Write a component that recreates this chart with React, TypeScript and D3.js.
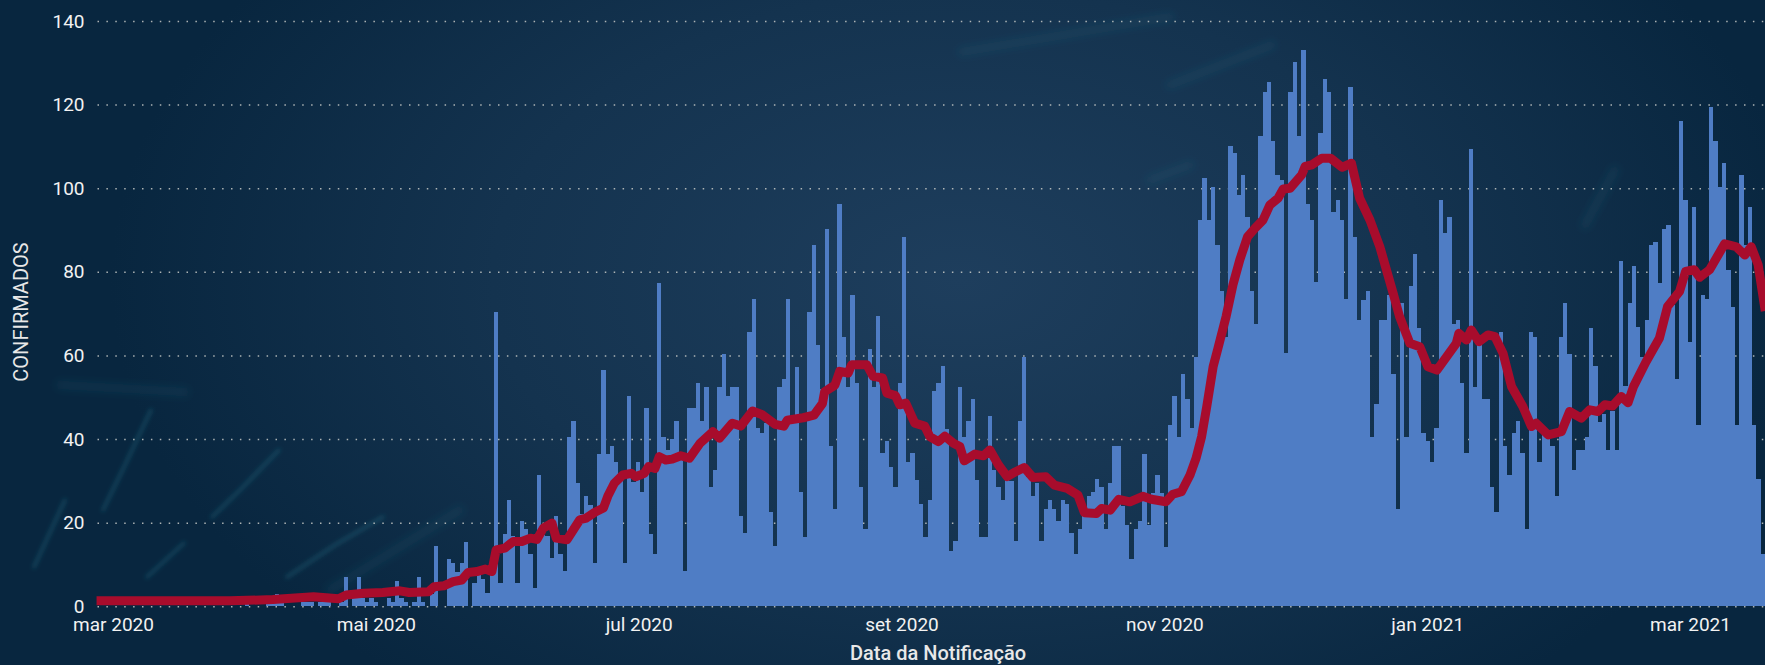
import * as d3 from "d3";
import { useEffect, useRef } from "react";

const width = 1765;
const height = 665;

const yTicks = [0, 20, 40, 60, 80, 100, 120, 140];
const monthLabels = ["mar 2020", "mai 2020", "jul 2020", "set 2020", "nov 2020", "jan 2021", "mar 2021"];

// confirmed cases per day, starting 1 Mar 2020
const dailyCases = [
  0, 0, 0, 0, 0, 0, 0, 0, 0, 0,
  0, 0, 0, 0, 0, 0, 0, 0, 0, 0,
  0, 0, 0, 0, 0, 0, 0, 0, 0, 0,
  0, 0, 0, 0, 1, 0, 0, 0, 0, 1,
  1, 3, 1, 0, 0, 0, 0, 1, 1, 1,
  0, 1, 1, 1, 0, 0, 1, 7, 0, 2,
  7, 2, 1, 2, 1, 0, 0, 2, 1, 6,
  2, 1, 0, 1, 7, 1, 0, 3, 14.4, 0,
  0, 11.3, 10.3, 8.3, 10.3, 15.3, 0, 5.5, 7.5, 6.5,
  3.3, 8, 70.4, 5.5, 17.3, 25.4, 16.8, 5.5, 20.3, 18.4,
  12.5, 4.3, 31.4, 17, 16.7, 11.5, 21.5, 12.5, 8.5, 40.4,
  44.3, 29.4, 22, 26.5, 24.2, 10.4, 36.5, 56.5, 36.5, 38.4,
  34.4, 31, 10.4, 50.3, 29.8, 34.4, 27.4, 47.4, 17.3, 12.5,
  77.4, 40.4, 37.4, 40, 44.4, 35, 8.5, 47.4, 47.4, 53.3,
  44.4, 52.5, 28.5, 32.5, 52.5, 60.4, 50.4, 52.5, 52.5, 21.5,
  17.5, 65.5, 73.4, 42.6, 41.5, 43.8, 22.5, 14.4, 52.5, 54.4,
  73.4, 45.4, 57.3, 27.4, 16.5, 70.3, 86.4, 62.5, 52, 90.2,
  38.4, 23.3, 96.2, 64.5, 52.5, 74.5, 53.3, 28.5, 18.4, 61.5,
  52.5, 69.5, 36.6, 39.6, 33.4, 28.5, 53.3, 88.3, 34.4, 36.6,
  30.2, 24.5, 16.5, 25.4, 51.5, 53.3, 57.5, 42.3, 13.3, 15.5,
  52.5, 40.6, 44.4, 49.5, 30.2, 16.5, 16.5, 45.4, 32.5, 28.5,
  25.4, 30.2, 30, 15.5, 44.4, 59.6, 31, 26.5, 29.4, 15.5,
  23.3, 25.4, 23.3, 20.3, 25.4, 24.4, 17.5, 12.5, 18.4, 22,
  26.5, 27.4, 30.4, 28.5, 18.4, 29.4, 38.4, 38.4, 24, 19.5,
  11.4, 18.4, 20.3, 36.4, 19.5, 27, 31.4, 27, 14.3, 43.4,
  50.3, 40.4, 55.5, 49.5, 42.6, 59.6, 92.3, 102.4, 92.3, 100.2,
  86.4, 75.5, 64.5, 110, 108.4, 98.4, 103.2, 93.2, 75.5, 67.5,
  112.4, 123.1, 125.4, 111.3, 103.2, 102, 60.5, 123.1, 130.1, 112.4,
  133.1, 96.2, 92.4, 77.5, 113.2, 126.1, 123.1, 94.4, 97.2, 92.4,
  73.4, 124.2, 88.4, 68.5, 73.3, 75.4, 40.4, 48.4, 68.5, 68.5,
  74.5, 55.6, 23.3, 72.5, 40.4, 76.6, 84.2, 66.5, 41.4, 39.6,
  34.4, 42.6, 97.2, 89.4, 93, 67.5, 68.5, 53.3, 36.6, 109.4,
  52.5, 62.5, 49.6, 49.6, 28.5, 22.5, 65.5, 38.4, 31.4, 41.4,
  44.4, 36.6, 18.5, 65.5, 64.5, 34.4, 41, 40.4, 38.4, 26.5,
  64.5, 72.5, 60.3, 32.6, 37.4, 37.4, 40.4, 66.5, 57.5, 44,
  46, 37.4, 46.6, 37.4, 82.5, 52.6, 72.5, 81.5, 66.7, 59.7,
  68.5, 86.4, 87.1, 77.4, 90.2, 91.2, 72, 54.4, 116.1, 97.2,
  63.3, 95.4, 43.4, 74.5, 73.4, 119.4, 111.3, 100.2, 106.1, 80.5,
  71.5, 43.4, 103.2, 86.4, 95.4, 43.4, 30.4, 12.5,
];

// red moving average: the days where it was read, and its value there
const avgDay = [
  0, 30, 40, 49.5, 55.3, 57.1, 61.1, 65.6, 69.6, 71.8, 76.3, 77.6, 79.8, 82, 84, 85.5, 87.5, 89.5, 91, 92, 94, 96, 98,
  100, 101.5, 103, 105, 106, 108.5, 110, 111.5, 113, 115, 117, 118, 119.5, 121.5, 123.5, 124.5, 126.5, 127.5, 129, 130,
  131.5, 133, 135, 137, 139.5, 142.5, 144, 147, 149, 151.7, 154, 157, 159, 159.8, 163.5, 166, 168, 168.5, 170.9, 172,
  174, 174.8, 178.3, 179.8, 182, 183, 185, 186, 187.4, 189.5, 191.8, 193, 195, 196.5, 198.5, 200, 201, 203.5, 205.5,
  207, 209, 211, 213, 215, 217, 220, 222, 225, 227.5, 229, 231.8, 233, 235, 237, 239.6, 242.6, 244.6, 248, 249.6, 251.6,
  253.6, 255, 256.3, 257.5, 259, 260.1, 262, 263.6, 265.2, 267, 268.7, 270.6, 272.2, 274.1, 275.3, 276.9, 279.6, 280.4,
  282, 284.3, 286.3, 289, 291.2, 293.1, 295.5, 297.8, 300.9, 302.4, 304.8, 307.1, 309, 311.1, 315.6, 316.2, 318, 319.1,
  320.9, 323, 324.6, 326.5, 328.5, 331.1, 333.1, 334.2, 337, 340.1, 342, 344.7, 346.7, 348.6, 350.2, 352, 354, 355.6,
  356.9, 359.8, 362.9, 364.8, 367.6, 369, 371, 372.3, 374.6, 378.1, 380.8, 382.8, 384.3, 385.9, 387.4,
];
const avgValue = [
  1.3, 1.3, 1.6, 2.3, 1.8, 2.7, 3.1, 3.3, 3.7, 3.3, 3.5, 4.7, 4.9, 5.9, 6.3, 8.1, 8.3, 8.9, 8.3, 13.5, 13.9, 15.5, 15.5,
  16.3, 16, 18.7, 19.9, 16.3, 15.9, 18.3, 20.7, 21.1, 22.5, 23.5, 26.3, 29.4, 31.4, 31.8, 31, 31.8, 33.4, 33, 35.8,
  35, 35.2, 36, 35.4, 39, 41.8, 40.2, 43.8, 43.1, 46.7, 45.8, 43.5, 43.1, 44.5, 45.1, 45.7, 48.5, 51.3, 52.9, 56.2,
  55.8, 57.8, 57.8, 55, 54.6, 51, 50.4, 48.2, 48.6, 43.8, 43.1, 40.6, 39.4, 40.7, 39, 38.2, 34.8, 36.4, 36,
  37.4, 33.8, 31, 32.2, 33.2, 30.8, 31, 29, 28.2, 26.6, 22.4, 22.2, 23.4, 23, 25.6, 25, 26.3, 25.6, 25, 26.8, 27.4,
  31.4, 35.4, 40.6, 47.8, 57.4, 61.7, 69.3, 76.9, 82.9, 88.4, 90.4, 92.4, 96, 97.6, 99.8, 100, 103.2, 105.2,
  105.6, 107.2, 107.2, 105, 106, 97.6, 92.4, 86, 74.9, 69.3, 62.9, 62.1, 57.3, 56.5, 62.9, 65.3, 63.7, 66.1,
  63.3, 64.9, 64.5, 60.5, 52.5, 47.8, 43, 43.8, 41, 41.8, 46.6, 45, 47, 46.6, 48.2, 47.9, 50.2, 48.7,
  52.6, 58.5, 64.1, 71.7, 75.3, 80.1, 80.5, 78.7, 80.5, 86.7, 86, 84, 86, 81.7, 71.7,
];

// streaks of the background photo, the clear ones bottom left and the faint ones top right
const clearStreaks = [
  [[151, 410], [125, 465], [103, 510]],
  [[279, 450], [240, 490], [212, 517]],
  [[184, 543], [147, 577]],
  [[383, 517], [335, 545], [287, 577]],
  [[65, 500], [34, 567]],
];
const faintStreaks = [
  [[962, 52], [1170, 17]],
  [[1170, 85], [1272, 45]],
  [[1190, 165], [1150, 180]],
  [[1615, 170], [1585, 225]],
  [[460, 510], [330, 590]],
  [[60, 385], [185, 392]],
];

export default function App() {
  const ref = useRef<SVGSVGElement | null>(null);

  useEffect(() => {
    const svg = d3.select(ref.current);
    svg.selectAll("*").remove();
    svg.attr("viewBox", `0 0 ${width} ${height}`);

    const left = 98.9;
    const bottom = 606.3;
    const top = 21;

    const x = d3.scaleBand<number>().domain(d3.range(dailyCases.length)).range([left, width]);
    const y = d3.scaleLinear().domain([0, 140]).range([bottom, top]);
    const xMonths = d3.scalePoint<string>().domain(monthLabels).range([113, 1690]);

    const defs = svg.append("defs");
    const bg = defs
      .append("radialGradient")
      .attr("id", "bg")
      .attr("gradientUnits", "userSpaceOnUse")
      .attr("cx", 960)
      .attr("cy", 280)
      .attr("r", 850)
      .attr("gradientTransform", "translate(960 280) scale(1 0.62) translate(-960 -280)");
    bg.append("stop").attr("offset", 0).attr("stop-color", "#1e3e5d");
    bg.append("stop").attr("offset", 0.55).attr("stop-color", "#14334f");
    bg.append("stop").attr("offset", 1).attr("stop-color", "#08263f");
    defs.append("filter").attr("id", "soft").append("feGaussianBlur").attr("stdDeviation", 2);
    defs.append("filter").attr("id", "softer").append("feGaussianBlur").attr("stdDeviation", 4);

    svg.append("rect").attr("width", width).attr("height", height).attr("fill", "url(#bg)");

    svg
      .append("g")
      .attr("filter", "url(#soft)")
      .selectAll("path")
      .data(clearStreaks)
      .enter()
      .append("path")
      .attr("d", (d) => d3.line()(d as [number, number][]))
      .attr("stroke", "#2f8296")
      .attr("stroke-opacity", 0.32)
      .attr("stroke-width", 3.5)
      .attr("stroke-linecap", "round")
      .attr("fill", "none");

    svg
      .append("g")
      .attr("filter", "url(#softer)")
      .selectAll("path")
      .data(faintStreaks)
      .enter()
      .append("path")
      .attr("d", (d) => d3.line()(d as [number, number][]))
      .attr("stroke", "#2f7a90")
      .attr("stroke-opacity", 0.16)
      .attr("stroke-width", 8)
      .attr("stroke-linecap", "round")
      .attr("fill", "none");

    // dotted grid comes from the y axis ticks
    const yAxis = svg
      .append("g")
      .attr("transform", "translate(97.5,0)")
      .call(d3.axisLeft(y).tickValues(yTicks).tickSize(-(width - 97.5)).tickPadding(13));
    yAxis.select(".domain").remove();
    yAxis
      .selectAll("line")
      .attr("stroke", "#c9cbc8")
      .attr("stroke-opacity", 0.85)
      .attr("stroke-width", 1.5)
      .attr("stroke-dasharray", "1.5 7.4");
    yAxis
      .selectAll("text")
      .attr("fill", "#f2f2f2")
      .attr("font-family", "Roboto, sans-serif")
      .attr("font-size", 19);

    svg
      .append("g")
      .attr("shape-rendering", "crispEdges")
      .selectAll("rect")
      .data(dailyCases)
      .enter()
      .append("rect")
      .attr("x", (_d: number, i: number) => x(i) as number)
      .attr("y", (d: number) => y(d))
      .attr("width", x.bandwidth())
      .attr("height", (d: number) => bottom - y(d))
      .attr("fill", "#4f7dc5");

    const avgLine = d3
      .line<number>()
      .x((d) => (x(0) as number) + x.bandwidth() / 2 + d * x.step())
      .y((_d, i) => y(avgValue[i]));

    svg
      .append("path")
      .attr("d", avgLine(avgDay))
      .attr("fill", "none")
      .attr("stroke", "#a80c2c")
      .attr("stroke-width", 9)
      .attr("stroke-linejoin", "round")
      .attr("stroke-linecap", "square");

    const xAxis = svg
      .append("g")
      .attr("transform", `translate(0,${bottom})`)
      .call(d3.axisBottom(xMonths).tickSize(0).tickPadding(11));
    xAxis.select(".domain").remove();
    xAxis
      .selectAll("text")
      .attr("fill", "#f2f2f2")
      .attr("font-family", "Roboto, sans-serif")
      .attr("font-size", 19);

    svg
      .append("text")
      .attr("x", 938)
      .attr("y", 660)
      .attr("text-anchor", "middle")
      .attr("fill", "#e8e8e8")
      .attr("font-family", "Roboto, sans-serif")
      .attr("font-weight", 500)
      .attr("font-size", 20)
      .text("Data da Notificação");

    svg
      .append("text")
      .attr("transform", "translate(28,312) rotate(-90)")
      .attr("text-anchor", "middle")
      .attr("fill", "#e8e8e8")
      .attr("font-family", "Roboto, sans-serif")
      .attr("font-size", 20)
      .text("CONFIRMADOS");
  }, []);

  return <svg ref={ref} width={width} height={height} style={{ position: "absolute", left: 0, top: 0 }} />;
}
